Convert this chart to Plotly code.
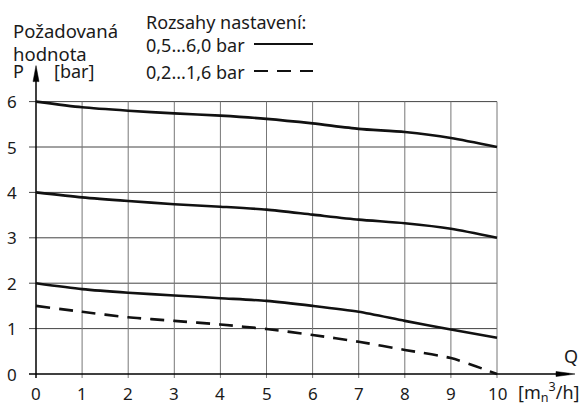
import plotly.graph_objects as go

# ---- data ----
q = [0, 1, 2, 3, 4, 5, 6, 7, 8, 9, 10]
p_high_6 = [6.0, 5.875, 5.80, 5.74, 5.69, 5.62, 5.52, 5.40, 5.33, 5.20, 5.0]
p_high_4 = [4.0, 3.89, 3.81, 3.74, 3.685, 3.62, 3.51, 3.40, 3.32, 3.20, 3.0]
p_high_2 = [2.0, 1.87, 1.79, 1.73, 1.67, 1.61, 1.50, 1.37, 1.17, 0.98, 0.80]
p_low = [1.50, 1.37, 1.25, 1.17, 1.09, 0.99, 0.86, 0.71, 0.53, 0.35, 0.0]

x_ticks = [0, 1, 2, 3, 4, 5, 6, 7, 8, 9, 10]
y_ticks = [0, 1, 2, 3, 4, 5, 6]
x_tick_labels = ["0", "1", "2", "3", "4", "5", "6", "7", "8", "9", "10"]
y_tick_labels = ["0", "1", "2", "3", "4", "5", "6"]

FONT = "Noto Sans"
W, H = 584, 407
# pixel calibration of the plot
X0PX, XPU = 36.0, 46.1
Y0PX, YPU = 374.0, 45.4
xr = [-X0PX / XPU, (W - X0PX) / XPU]
yr = [(Y0PX - H) / YPU, Y0PX / YPU]

def dx(px):  # pixel offset -> data units (x)
    return px / XPU

def dy(px):
    return px / YPU

fig = go.Figure()

# grid: horizontal
hx, hy = [], []
for yv in y_ticks[1:]:
    hx += [x_ticks[0] - dx(7), x_ticks[-1], None]
    hy += [yv, yv, None]
fig.add_trace(go.Scatter(x=hx, y=hy, mode="lines", line=dict(color="#444444", width=1),
                         hoverinfo="skip", showlegend=False))
# grid: vertical
vx, vy = [], []
for xv in x_ticks[1:]:
    vx += [xv, xv, None]
    vy += [y_ticks[0] - dy(4), y_ticks[-1], None]
fig.add_trace(go.Scatter(x=vx, y=vy, mode="lines", line=dict(color="#777777", width=1),
                         hoverinfo="skip", showlegend=False))

# axes with arrows
x_end = x_ticks[-1] + dx(78)
y_end = y_ticks[-1] + dy(36)
fig.add_trace(go.Scatter(x=[x_ticks[0] - dx(7), x_end - dx(6)], y=[0, 0], mode="lines",
                         line=dict(color="black", width=1.5), hoverinfo="skip", showlegend=False))
fig.add_trace(go.Scatter(x=[0, 0], y=[-dy(4), y_end - dy(6)], mode="lines",
                         line=dict(color="black", width=1.5), hoverinfo="skip", showlegend=False))
fig.add_trace(go.Scatter(x=[x_end - dx(19), x_end, x_end - dx(19), x_end - dx(19)],
                         y=[dy(2.5), 0, -dy(2.5), dy(2.5)], mode="lines", fill="toself",
                         fillcolor="black", line=dict(color="black", width=0.5),
                         hoverinfo="skip", showlegend=False))
fig.add_trace(go.Scatter(x=[-dx(3), 0, dx(3), -dx(3)],
                         y=[y_end - dy(16), y_end, y_end - dy(16), y_end - dy(16)], mode="lines",
                         fill="toself", fillcolor="black", line=dict(color="black", width=0.5),
                         hoverinfo="skip", showlegend=False))

# curves
for ys in (p_high_6, p_high_4, p_high_2):
    fig.add_trace(go.Scatter(x=q, y=ys, mode="lines",
                             line=dict(color="#111111", width=2.6, shape="spline", smoothing=0.7),
                             hoverinfo="skip", showlegend=False))
fig.add_trace(go.Scatter(x=q, y=p_low, mode="lines",
                         line=dict(color="#111111", width=2.6, shape="spline", smoothing=0.7,
                                   dash="14px,9px"),
                         hoverinfo="skip", showlegend=False))

ann = []
for v, t in zip(x_ticks, x_tick_labels):
    ann.append(dict(x=v, y=-dy(19), text=t, xref="x", yref="y", showarrow=False,
                    xanchor="center", yanchor="middle", font=dict(size=17)))
for v, t in zip(y_ticks, y_tick_labels):
    ann.append(dict(x=-dx(17), y=v, text=t, xref="x", yref="y", showarrow=False,
                    xanchor="right", yanchor="middle", font=dict(size=17)))

texts = [
    dict(x=516, y=392, text="[m<sub>n</sub><sup>3</sup>/h]", xanchor="left", size=18),
    dict(x=571, y=356, text="Q", xanchor="center", size=18),
    dict(x=11, y=30, text="Požadovaná", xanchor="left", size=18.5),
    dict(x=11, y=54, text="hodnota", xanchor="left", size=18.5),
    dict(x=11, y=71, text="P", xanchor="left", size=18),
    dict(x=52, y=71, text="[bar]", xanchor="left", size=18),
    dict(x=144, y=22, text="Rozsahy nastavení:", xanchor="left", size=18),
    dict(x=144, y=45, text="0,5...6,0 bar", xanchor="left", size=18),
    dict(x=144, y=72, text="0,2...1,6 bar", xanchor="left", size=18),
]
for a in texts:
    s = a.pop("size")
    a.update(xref="paper", yref="paper", showarrow=False, yanchor="middle",
             font=dict(size=s))
    a["x"] = a["x"] / W
    a["y"] = 1 - a["y"] / H
ann += texts

shapes = [
    dict(type="line", xref="paper", yref="paper", x0=254 / W, x1=313 / W,
         y0=1 - 44 / H, y1=1 - 44 / H, line=dict(color="#111111", width=2.2)),
    dict(type="line", xref="paper", yref="paper", x0=254 / W, x1=313 / W,
         y0=1 - 71 / H, y1=1 - 71 / H, line=dict(color="#111111", width=2.2, dash="14px,9px")),
]

fig.update_layout(
    width=W, height=H, margin=dict(l=0, r=0, t=0, b=0),
    paper_bgcolor="white", plot_bgcolor="white",
    font=dict(family=FONT, color="#1a1a1a", size=17),
    xaxis=dict(range=xr, visible=False, fixedrange=True),
    yaxis=dict(range=yr, visible=False, fixedrange=True),
    annotations=ann, shapes=shapes, showlegend=False,
)

fig.write_html("out.html", config={"displayModeBar": False},
               post_script="document.body.style.margin='0';document.body.style.overflow='hidden';")
